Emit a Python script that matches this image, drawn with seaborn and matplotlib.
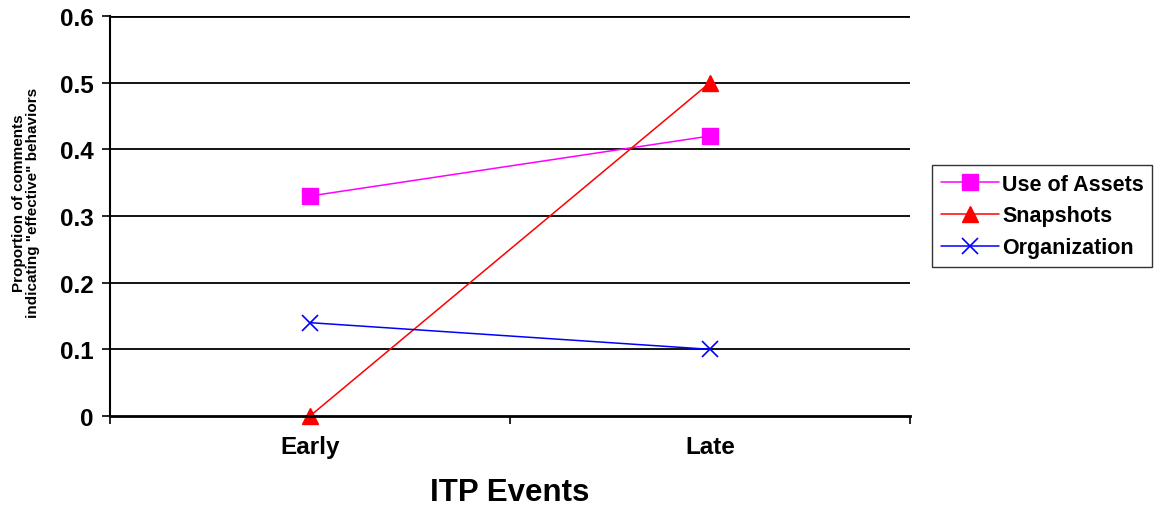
import matplotlib
matplotlib.use("Agg")
import matplotlib.pyplot as plt
import seaborn as sns
import numpy as np
import pandas as pd

categories = ["Early", "Late"]
series_names = ["Use of Assets", "Snapshots", "Organization"]
use_of_assets = [0.33, 0.42]
snapshots = [0.0, 0.5]
organization = [0.14, 0.10]
y_ticks = [0, 0.1, 0.2, 0.3, 0.4, 0.5, 0.6]
y_tick_labels = ["0", "0.1", "0.2", "0.3", "0.4", "0.5", "0.6"]

sns.set_theme(style="white")
plt.rcParams['font.family'] = ['Liberation Sans', 'DejaVu Sans']
plt.rcParams['text.color'] = 'black'
plt.rcParams['xtick.color'] = 'black'
plt.rcParams['ytick.color'] = 'black'
plt.rcParams['axes.labelcolor'] = 'black'

fig = plt.figure(figsize=(11.57, 5.10), dpi=100)
ax = fig.add_axes([110/1157, 93/510, 800/1157, 400/510])

xpos = np.arange(len(categories))
styles = [
    (use_of_assets, "#FF00FF", "s", 11, 1.0),
    (snapshots, "#FF0000", "^", 12, 1.0),
    (organization, "#0000FF", "x", 11, 1.2),
]
for name, (vals, color, marker, ms, mew) in zip(series_names, styles):
    df = pd.DataFrame({"x": xpos, "y": vals})
    sns.lineplot(data=df, x="x", y="y", ax=ax, color=color, linewidth=1.1,
                 marker=marker, markersize=ms, markeredgewidth=mew,
                 markeredgecolor=color, markerfacecolor=color, label=name,
                 clip_on=False)

ax.set_xlim(-0.5, 1.5)
ax.set_ylim(0, 0.6)
for yv in y_ticks[1:]:
    ax.axhline(yv, color="black", linewidth=1.3 if yv < 0.6 else 2.0, zorder=0)

ax.set_yticks(y_ticks)
ax.set_yticklabels(y_tick_labels, fontsize=17.5, fontweight="bold", color="black")
ax.set_xticks([-0.5, 0.5, 1.5])
ax.set_xticklabels([])
ax.set_xticks(xpos, minor=True)
ax.set_xticklabels(categories, minor=True, fontsize=17.5, fontweight="bold", color="black")
ax.tick_params(axis="x", which="major", direction="out", length=6, width=1.2, color="black", bottom=True)
ax.tick_params(axis="x", which="minor", length=0, pad=14)
ax.tick_params(axis="y", direction="out", length=6, width=1.2, color="black", left=True, pad=6)

ax.spines["right"].set_visible(False)
ax.spines["top"].set_visible(False)
ax.spines["left"].set_color("black")
ax.spines["left"].set_linewidth(1.5)
ax.spines["bottom"].set_color("black")
ax.spines["bottom"].set_linewidth(2.0)

ax.set_xlabel("")
ax.set_ylabel("")
fig.text(510/1157, 1 - 493/510, "ITP Events", ha="center", va="center",
         fontsize=22.5, fontweight="bold", color="black")
fig.text(26/1157, 1 - 203/510, "Proportion of comments\nindicating \"effective\" behaviors",
         rotation=90, ha="center", va="center", fontsize=11, fontweight="bold",
         linespacing=1.0, color="black")

leg = ax.legend(loc="center left", bbox_to_anchor=(932/1157, 1 - 217/510),
                bbox_transform=fig.transFigure, frameon=True, fancybox=False,
                prop={"size": 15.5, "weight": "bold"}, handlelength=2.7,
                handletextpad=0.15, borderpad=0.4, labelspacing=0.5,
                borderaxespad=0)
for t in leg.get_texts():
    t.set_color("black")
leg.get_frame().set_edgecolor("black")
leg.get_frame().set_linewidth(1.0)

fig.savefig("out.png", dpi=100)
